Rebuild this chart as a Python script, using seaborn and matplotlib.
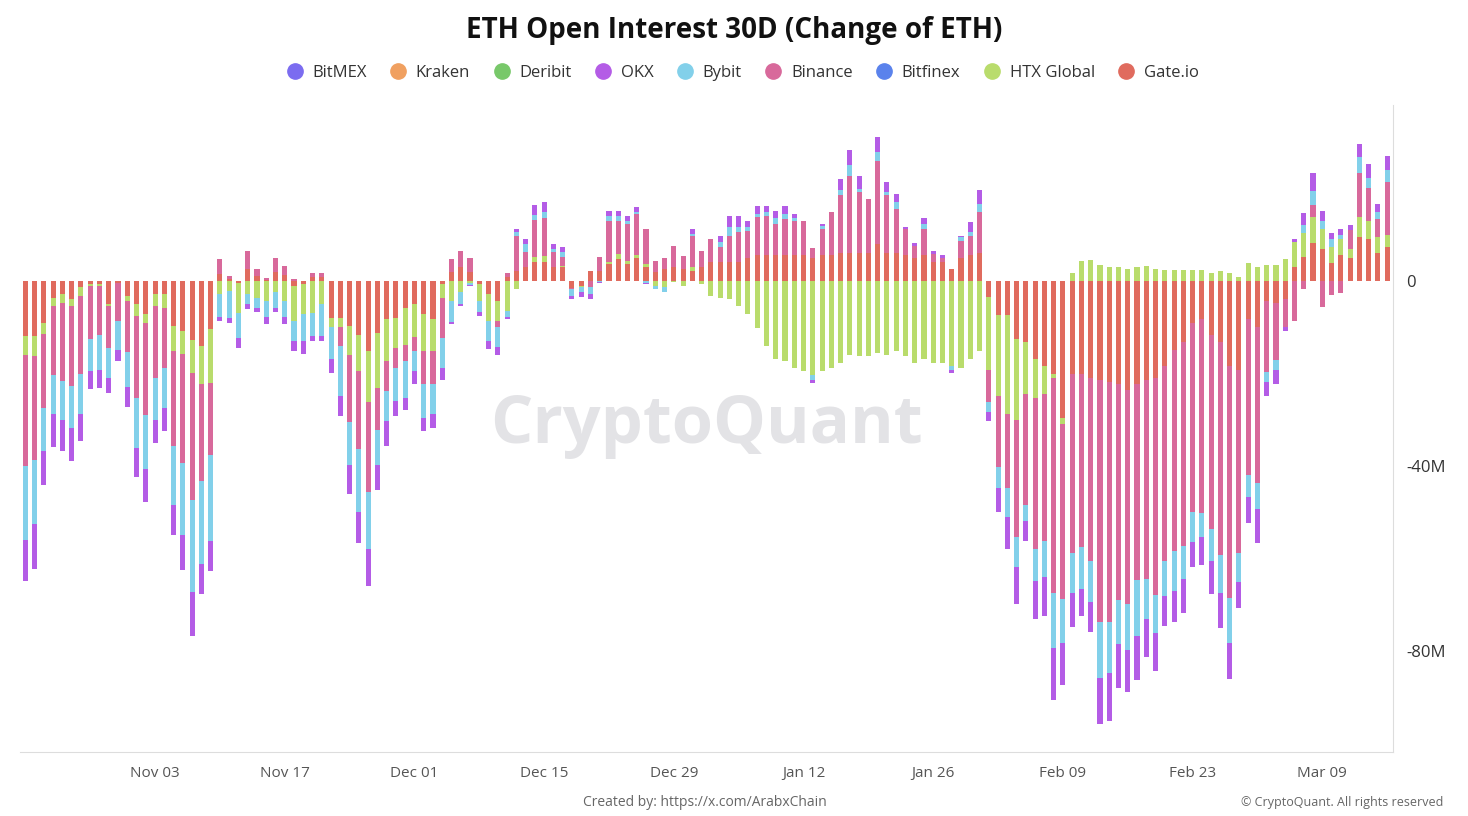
import numpy as np
import pandas as pd
import matplotlib
matplotlib.use("Agg")
import matplotlib.pyplot as plt
from matplotlib.lines import Line2D
import seaborn as sns

# values in millions of ETH, one per day from 2024-10-20
start_date = "2024-10-20"

gate = [-12, -12, -9, -3.6, -2.9, -4, -1.4, -0.7, -0.7, -5, -0.4, -3.3, -5, -7.2, -2.9, -2.9, -9.8, -10.9, -12.7, -14,
        -10.5, 1.5, 0.5, -0.4, 2.5, 1, 0.3, 2, 1.3, -1, -0.7, 0.8, 0.8, -8, -8, -9.8, -11.6, -15.2, -11.2, -8.3,
        -8, -5.8, -5, -7.2, -8.3, -0.7, 2, 3, 2, -0.7, -2.9, -4.3, 0.8, 2.2, 2.9, 4, 4, 3, 2.9, -1.5,
        -1, 2.2, 2.2, 3.6, 4.7, 3.6, 5, 2.9, 2, 2.5, 3, 2.5, 2.2, 3, 4, 4, 4, 4, 5, 5.5,
        5.5, 5.5, 5.5, 5.5, 5.5, 5, 5.5, 5.5, 6, 6, 6, 6, 8, 6, 6, 5.5, 5, 5.5, 4, 4,
        2.5, 5, 5.5, 6, -3.4, -7.3, -7.3, -12.5, -13.3, -16.8, -18.5, -20.2, -29.6, -20.2, -20.2, -21, -21.5, -21.9, -22.3, -23.6,
        -22.3, -21.5, -21, -18.5, -15, -13.3, -9, -8.2, -11.6, -13.3, -18.5, -19.3, -8.2, -9.9, -4.3, -4.7, -4, 3, 5.2, 8.2,
        6.9, 3.9, 5.6, 5, 9.5, 9, 6, 7.3]
htx = [-4, -4.3, -2.5, -1.8, -1.8, -1.4, -1.8, -0.5, -0.5, -0.5, 0, -1.1, -2.5, -1.8, -2.5, -2.9, -5.4, -5, -7.2, -8.3,
       -11.6, -2.9, -2.2, -6.5, -2.9, -3.6, -4.3, -2.5, -4.3, -7.7, -6.5, -6.9, -5, -2, -2, -6.2, -8, -10.9, -12, -9,
       -6.5, -8, -7.2, -8, -6.9, -2.9, -4.3, -2.5, -0.4, -3.6, -5.8, -4.3, -6.5, -1.8, 0, 1.1, 1.4, 0, 0.4, 0,
       -0.4, 0, 0, 0.4, 1.1, 0.7, 0.7, 0.7, -1.1, -1.4, -0.3, -1, 0.7, -0.7, -3.3, -3.6, -4, -5.4, -7.2, -10.1,
       -14.1, -17, -17.4, -18.8, -19.6, -20.3, -19.6, -18.8, -17.8, -16, -16.3, -16.3, -15.6, -16, -15.2, -16.3, -17.8, -17, -17.8, -17.8,
       -18.5, -18.8, -17, -15.2, -15.9, -17.6, -21.5, -17.6, -11.2, -8.6, -6, -0.9, -1.3, 1.7, 4.3, 4.6, 3.4, 3, 3, 2.6,
       3, 3.2, 2.6, 2.3, 2.3, 2.3, 2.3, 2.3, 1.7, 2.1, 1.7, 0.9, 3.9, 3, 3.4, 3.4, 4.7, 5.5, 5.2, 5.6,
       4.3, 3.4, 3.4, 2, 4.3, 3.9, 3.4, 2.6]
binance = [-24, -22.5, -16, -15, -17, -17.4, -17, -11.3, -10.5, -9, -8.3, -10.9, -17.8, -20, -15.6, -13, -20.6, -23.5, -27.5, -21,
           -15.6, 3.2, 0.6, 0, 4, 1.5, 0.4, 3, 2, 0.4, 0, 1, 1, 0, -4, -14.5, -16.7, -19.6, -9, -6.5,
           -4.3, -3.6, -2.9, -7.2, -7.2, -8.7, 2.7, 3.5, 3, 0, 0, -1.4, 1, 7.6, 3.3, 8, 8.3, 3.2, 1.8, -0.3,
           0, -1.4, 2.9, 9, 7.2, 8, 8.7, 7.6, 2.3, 2.5, 4.6, 2.9, 6.9, 3.5, 5, 3.3, 5.8, 6.5, 5.9, 8.3,
           8.6, 6.8, 7.9, 7.5, 7.5, 2.2, 5.7, 9.4, 12.5, 16.8, 13.2, 11.8, 18, 12.5, 9.6, 5.7, 2.6, 5.7, 1.8, 1,
           0, 3.7, 4.3, 8.9, -6.9, -15.3, -15.9, -25.3, -24, -32.6, -31.8, -46.4, -38, -38.7, -37.4, -39.5, -52.4, -51.8, -46.8, -46.4,
           -42.5, -43, -47, -42, -43.4, -44, -41, -42, -42, -46, -50, -39.5, -33.9, -33.9, -15.5, -12.5, -5.9, -8.6, -1.7, 2.6,
           -5.6, -3, -2.6, 4, 9.5, 7.3, 3.9, 11.6]
bybit = [-16, -13.8, -9.4, -8.3, -8.3, -9, -8.7, -6.9, -7.5, -6.5, -6.2, -7.6, -10.9, -11.6, -9, -8.7, -12.7, -15.6, -20, -18,
         -18.5, -5, -5.8, -5.4, -2.2, -2.2, -3.6, -3.3, -3.6, -4.3, -5.8, -5, -6.9, -7, -11, -9.4, -13.8, -12.3, -7.6, -6.5,
         -7.2, -8, -4.5, -7.2, -6.5, -6.5, -4.5, -2.5, -0.5, -2.5, -4.3, -4.3, -1.4, 0.7, 1.8, 1.1, 1.1, 0.7, 1.1, -1.5,
         -1.1, -1.4, -0.2, 1.1, 1.1, 0.7, 0.4, -0.4, -0.7, -1.1, 0, 0, 0.4, 0, 0, 1.1, 1.8, 1.1, 0.7, 0.7,
         0.7, 1.4, 1.1, 0.7, 0, -1.1, 0.7, 0, 1.1, 2.2, 0.7, 0, 1.8, 0.7, 1.4, 0, 0, 1.1, 0, 0,
         -0.7, 0.7, 0.7, 1.8, -2.1, -4.7, -6.4, -6.4, -3.4, -6.9, -7.7, -12, -9.5, -8.6, -9, -9, -12, -11.2, -9.5, -9.9,
         -12, -8.6, -8.2, -7.7, -8.6, -7.3, -6.4, -5.2, -6.9, -8.2, -9.9, -6.4, -4.7, -5.6, -2.1, -2.1, 0, 0, 1.7, 3,
         1.7, 1.7, 0.9, 0, 3.4, 2.1, 1.7, 2.6]
okx = [-9, -9.8, -7.2, -7.2, -6.9, -7.2, -5.8, -4, -4, -3.3, -2.5, -4.3, -6.2, -7.2, -5, -5, -6.5, -7.6, -9.4, -6.5,
       -6.5, -0.7, -1, -2.2, -1, -1, -1.4, -1, -1.4, -2.2, -2.9, -1.1, -1.1, -2.9, -4.3, -6.2, -6.5, -8, -5.4, -5.4,
       -3.3, -2.5, -2.6, -2.9, -2.9, -2.6, -0.5, -0.5, -0.2, -0.7, -1.8, -1.8, -0.4, 0.7, 1.1, 2.2, 2.2, 1.1, 1.1, -0.7,
       -1, -1.1, -0.2, 1.1, 1.1, 1.1, 1.1, -0.3, 0, 0, 0, 0, 1.1, 0, 0, 1.4, 2.5, 2.5, 1.4, 1.8,
       1.4, 1.4, 1.8, 0.7, 0, -0.7, 0.4, 0, 2.5, 3.3, 2.9, 0, 3.3, 2.2, 1.8, 0.4, 0.7, 1.4, 0.7, 0.7,
       -0.7, 0.4, 2.2, 2.9, -2.1, -5.2, -6.9, -8.2, -4.3, -8.2, -8.6, -11.2, -9, -7.3, -6, -6.4, -9.9, -10.3, -9.5, -9,
       -9.5, -8.2, -8.2, -6.4, -6.9, -7.3, -5.6, -6, -7.3, -7.7, -7.7, -5.6, -5.6, -7.3, -3, -3, -0.9, 0.5, 2.6, 3.9,
       2.2, 1.3, 1.3, 1, 3, 3, 1.7, 3]

exchanges = ["BitMEX", "Kraken", "Deribit", "OKX", "Bybit", "Binance", "Bitfinex", "HTX Global", "Gate.io"]
colors = {"BitMEX": "#7b6cf0", "Kraken": "#f0a060", "Deribit": "#78c86a", "OKX": "#b45ce6",
          "Bybit": "#82d0ea", "Binance": "#d8699b", "Bitfinex": "#5a82ec", "HTX Global": "#b9dc6c",
          "Gate.io": "#e06b5e"}

# stacking order from zero outward
stack = [("Gate.io", gate), ("HTX Global", htx), ("Binance", binance), ("Bybit", bybit), ("OKX", okx)]
dates = pd.date_range(start_date, periods=len(gate), freq="D")

sns.set_style("white")
plt.rcParams['font.family'] = ['Open Sans', 'DejaVu Sans']

fig = plt.figure(figsize=(14.68, 8.16), dpi=100)
ax = fig.add_axes([0.0136, 0.078, 0.935, 0.793])

pos_bottom = np.zeros(len(dates))
neg_bottom = np.zeros(len(dates))
for name, vals in stack:
    v = np.array(vals, dtype=float)
    p = np.clip(v, 0, None)
    n = np.clip(v, None, 0)
    ax.bar(dates, p, bottom=pos_bottom, width=0.55, color=colors[name], linewidth=0)
    ax.bar(dates, n, bottom=neg_bottom, width=0.55, color=colors[name], linewidth=0)
    pos_bottom += p
    neg_bottom += n

ax.set_ylim(-102, 38)
ax.set_xlim(dates[0] - pd.Timedelta(hours=14), dates[-1] + pd.Timedelta(hours=14))
ax.yaxis.tick_right()
ax.set_yticks([0, -40, -80])
ax.set_yticklabels(["0", "-40M", "-80M"], fontsize=12, color="#333333")
xt = pd.date_range("2024-11-03", "2025-03-09", freq="14D")
ax.set_xticks(xt)
ax.set_xticklabels([d.strftime("%b %d") for d in xt], fontsize=11, color="#555555")
ax.tick_params(axis="both", length=0, pad=10)
for s in ["top", "left"]:
    ax.spines[s].set_visible(False)
ax.spines["bottom"].set_color("#dddddd")
ax.spines["right"].set_color("#dddddd")

ax.text(0.5, 0.505, "CryptoQuant", transform=ax.transAxes, ha="center", va="center",
        fontsize=48, color="#e3e3e6", fontweight="bold", zorder=0)

fig.suptitle("ETH Open Interest 30D (Change of ETH)", y=0.98, fontsize=20, fontweight="bold", color="#111111")
handles = [Line2D([], [], marker="o", linestyle="", markersize=11, color=colors[e]) for e in exchanges]
fig.legend(handles, exchanges, loc="center", bbox_to_anchor=(0.503, 0.911), ncol=9, frameon=False,
           fontsize=12, handletextpad=0.05, columnspacing=0.9, labelcolor="#333333")

fig.text(0.48, 0.012, "Created by: https://x.com/ArabxChain", ha="center", fontsize=10, color="#666666")
fig.text(0.983, 0.012, "© CryptoQuant. All rights reserved", ha="right", fontsize=9, color="#666666")

fig.savefig("out.png", dpi=100)
